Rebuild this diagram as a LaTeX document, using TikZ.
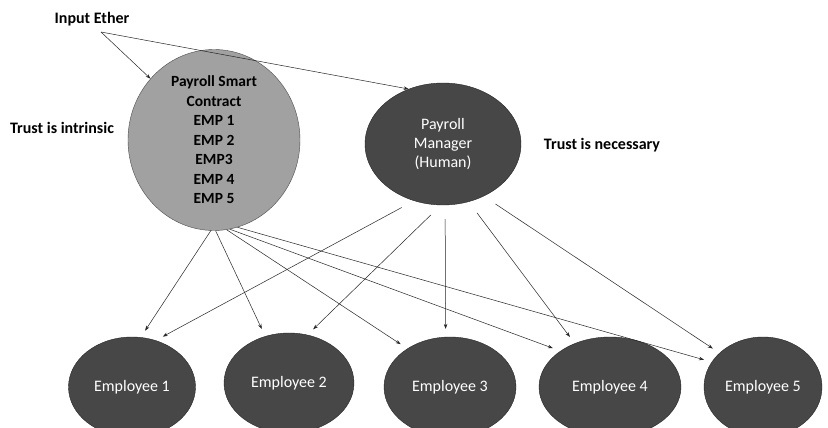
\documentclass[tikz,border=0pt]{standalone}
\usepackage{fontspec}
\setmainfont{Carlito}
\usetikzlibrary{shapes.geometric,arrows.meta}

\tikzset{
  bubble/.style={ellipse, draw=black!85, fill=black!72, text=white, inner sep=0pt},
  arr/.style={-{Stealth[length=5pt,width=3.5pt]}, line width=0.5pt, black!85},
  note/.style={font=\fontsize{16}{19.5}\selectfont\bfseries},
}

\begin{document}
\begin{tikzpicture}[x=1pt,y=-1pt,font=\fontsize{16}{19}\selectfont]
    % Page frame
    \useasboundingbox[fill=white] (0,0) rectangle (828,428);

    % Draw the contract and the manager
    \node[ellipse, draw=black!70, fill=black!37, inner sep=0pt, minimum width=172pt, minimum height=164pt, align=center, font=\fontsize{15.5}{19.5}\selectfont\bfseries] (contract) at (214,140) {Payroll Smart\\Contract\\EMP 1\\EMP 2\\EMP3\\EMP 4\\EMP 5};
    \node[bubble, minimum width=156pt, minimum height=122pt, align=center] (manager) at (443,144) {Payroll\\Manager\\(Human)};

    % Draw the employees
    \foreach \i/\x/\y/\w in {1/132/387/127, 2/289/383/130, 3/450/387/132, 4/610/387/142, 5/763/387/118}
        \node[bubble, minimum width=\w pt, minimum height=100pt] (emp\i) at (\x,\y) {Employee \i};

    % Add the labels
    \node[note] (ether) at (92,19) {Input Ether};
    \node[note] (intrinsic) at (62,128) {Trust is intrinsic};
    \node[note] (necessary) at (602,145) {Trust is necessary};
    \coordinate (fork) at (101,32);

    % Ether goes to both payers
    \draw[arr] (fork) -- (contract.136);
    \draw[arr] (fork) -- (manager.122);

    % Contract pays everyone
    \foreach \s/\t [count=\i] in {-92/80, -89/117, -82/138, -80/144, -75/154}
        \draw[arr, shorten >=8pt] (contract.\s) -- (emp\i.\t);

    % Manager pays everyone
    \foreach \s/\t [count=\i] in {-117/63, -92/69, -88/95, -66/129, -52/142}
        \draw[arr, shorten <=14pt, shorten >=8pt] (manager.\s) -- (emp\i.\t);
\end{tikzpicture}
\end{document}
